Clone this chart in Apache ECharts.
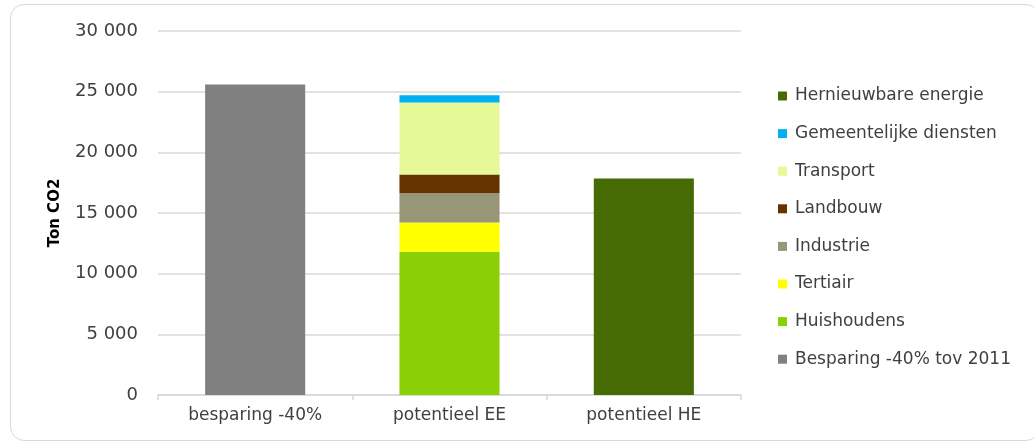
<!DOCTYPE html>
<html>
<head>
<meta charset="utf-8">
<script src="https://cdn.jsdelivr.net/npm/echarts@6/dist/echarts.min.js"></script>
<style>
  html, body { margin: 0; padding: 0; background: #fff; }
  #frame {
    position: absolute; left: 10px; top: 4px; width: 1030px; height: 437px;
    border: 1.5px solid #d9d9d9; border-radius: 14px; box-sizing: border-box;
  }
  #chart { position: absolute; left: 0; top: 0; width: 1034px; height: 445px; }
</style>
</head>
<body>
<div id="frame"></div>
<div id="chart"></div>
<script>
// Categories on the x axis
const categories = ['besparing -40%', 'potentieel EE', 'potentieel HE'];

// Ton CO2 per series, one value per category ('-' = no bar)
const besparing      = [25600, '-', '-'];
const huishoudens    = ['-', 11800, '-'];
const tertiair       = ['-', 2420, '-'];
const industrie      = ['-', 2410, '-'];
const landbouw       = ['-', 1540, '-'];
const transport      = ['-', 5930, '-'];
const gemeentelijk   = ['-', 600, '-'];
const hernieuwbaar   = ['-', '-', 17850];

// Series names (stack order bottom to top) and colours
const seriesNames = [
  'Besparing -40% tov 2011', 'Huishoudens', 'Tertiair', 'Industrie',
  'Landbouw', 'Transport', 'Gemeentelijke diensten', 'Hernieuwbare energie'
];
const seriesData = [besparing, huishoudens, tertiair, industrie, landbouw, transport, gemeentelijk, hernieuwbaar];
const seriesColors = ['#808080', '#8bd005', '#ffff00', '#989679', '#663300', '#e6f996', '#00b0f0', '#466a04'];

// Y axis ticks
const yTicks = [0, 5000, 10000, 15000, 20000, 25000, 30000];

const FONT = '"DejaVu Sans", sans-serif';
const TXT = '#404040';

const fmt = v => String(v).replace(/\B(?=(\d{3})+(?!\d))/g, ' ');

const chart = echarts.init(document.getElementById('chart'), null, { renderer: 'canvas' });
chart.setOption({
  animation: false,
  textStyle: { fontFamily: FONT },
  grid: { left: 158, right: 293, top: 31, bottom: 50, containLabel: false },
  legend: {
    orient: 'vertical',
    left: 773, top: 82,
    itemWidth: 9, itemHeight: 9, itemGap: 19.6,
    icon: 'rect',
    data: seriesNames.slice().reverse(),
    textStyle: { fontFamily: FONT, fontSize: 17, color: TXT, padding: [0, 0, 0, 3], lineHeight: 18 }
  },
  xAxis: {
    type: 'category',
    data: categories,
    axisLine: { lineStyle: { color: '#d9d9d9', width: 1.5 } },
    axisTick: { show: true, alignWithLabel: false, length: 5, lineStyle: { color: '#d9d9d9', width: 1.5 } },
    axisLabel: { fontFamily: FONT, fontSize: 17, color: TXT, margin: 12 }
  },
  yAxis: {
    type: 'value',
    min: yTicks[0], max: yTicks[yTicks.length - 1], interval: yTicks[1] - yTicks[0],
    name: 'Ton CO2',
    nameLocation: 'middle', nameRotate: 90, nameGap: 95,
    nameTextStyle: { fontFamily: FONT, fontSize: 15, fontWeight: 'bold', color: '#000' },
    axisLine: { show: false },
    axisTick: { show: false },
    splitLine: { lineStyle: { color: '#d9d9d9', width: 1.5 } },
    axisLabel: { fontFamily: FONT, fontSize: 18, color: TXT, margin: 20, formatter: fmt }
  },
  series: seriesNames.map((name, i) => ({
    name,
    type: 'bar',
    stack: 'total',
    barWidth: '51.5%',
    data: seriesData[i],
    itemStyle: { color: seriesColors[i] },
    emphasis: { disabled: true }
  }))
});
</script>
</body>
</html>
